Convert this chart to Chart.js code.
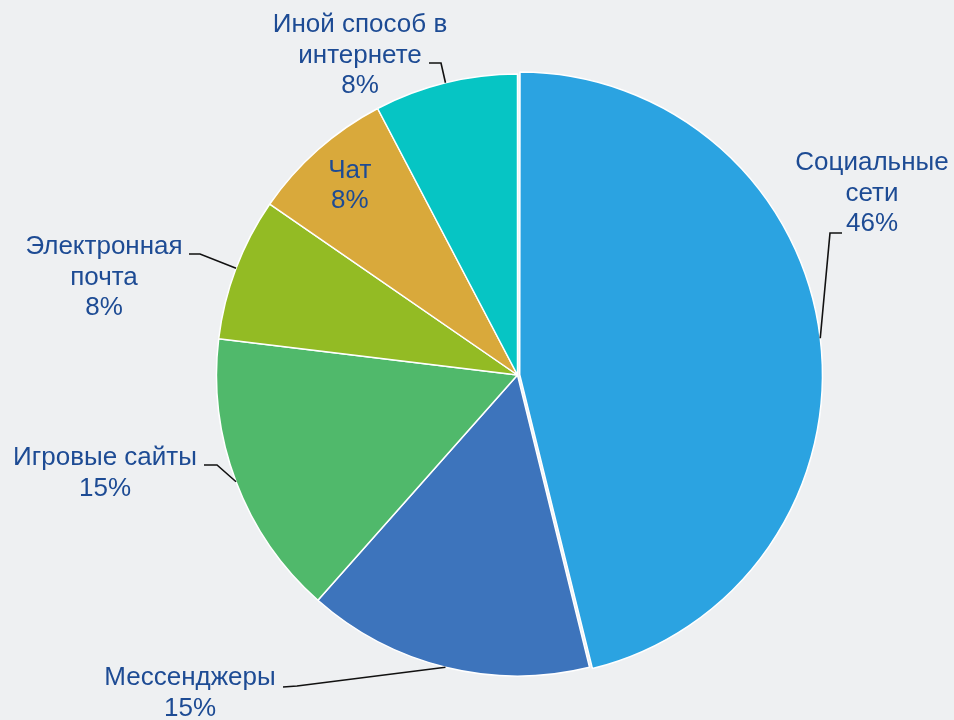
<!DOCTYPE html>
<html lang="ru">
<head>
<meta charset="UTF-8">
<title>Способы общения в интернете</title>
<script src="https://cdn.jsdelivr.net/npm/chart.js"></script>
<style>
  html, body { margin:0; padding:0; background:#eef0f2; }
  #wrap { width:954px; height:720px; position:relative; }
</style>
</head>
<body>
<div id="wrap"><canvas id="pie"></canvas></div>
<script>
// данные
const categories = [['Социальные', 'сети'], ['Мессенджеры'], ['Игровые сайты'], ['Электронная', 'почта'], ['Чат'], ['Иной способ в', 'интернете']];
const shares = [46.2, 15.4, 15.4, 7.7, 7.7, 7.7];
const colors = ['#2ba3e1', '#3d74bc', '#50b96b', '#93bb24', '#d9a93b', '#06c5c4'];

// где стоят подписи (только раскладка)
const labelLayout = [
  { x: 872, y: 163, end: [842, 233], elbow: [830, 233] },
  { x: 190, y: 678, end: [283, 687], elbow: [297, 686] },
  { x: 105, y: 458, end: [204, 465], elbow: [217, 465] },
  { x: 104, y: 247, end: [189, 254], elbow: [200, 254] },
  { inside: 0.84 },
  { x: 360, y: 25, end: [429, 63], elbow: [441, 63] }
];
const lineGap = 30.5;

// такой же сдвиг, как делает ArcElement.draw в Chart.js v4
function arcShift(p, offset) {
  const circ = p.endAngle - p.startAngle;
  const fix = 1 - Math.sin(Math.min(Math.PI, circ || 0));
  return (offset / 4) * (1 + fix);
}

const labelPlugin = {
  id: 'pieLabels',
  afterDatasetsDraw(chart) {
    const ctx = chart.ctx;
    const meta = chart.getDatasetMeta(0);
    ctx.save();
    ctx.font = '26px "Liberation Sans", Arial, sans-serif';
    ctx.fillStyle = '#1d4b94';
    ctx.textAlign = 'center';
    ctx.textBaseline = 'middle';
    meta.data.forEach((arc, i) => {
      const p = arc.getProps(['x', 'y', 'startAngle', 'endAngle', 'outerRadius'], true);
      const mid = (p.startAngle + p.endAngle) / 2;
      const sh = arcShift(p, arc.options.offset || 0);
      const cx = p.x + Math.cos(mid) * sh;
      const cy = p.y + Math.sin(mid) * sh;
      const lines = categories[i].concat([Math.round(shares[i]) + '%']);
      const lay = labelLayout[i];
      let tx, ty;
      if (lay.inside) {
        const r = p.outerRadius * lay.inside;
        tx = cx + Math.cos(mid) * r;
        ty = cy + Math.sin(mid) * r - lineGap * (lines.length - 1) / 2;
      } else {
        tx = lay.x; ty = lay.y;
        const ax = cx + Math.cos(mid) * p.outerRadius;
        const ay = cy + Math.sin(mid) * p.outerRadius;
        ctx.beginPath();
        ctx.strokeStyle = '#111';
        ctx.lineWidth = 1.6;
        ctx.moveTo(ax, ay);
        ctx.lineTo(lay.elbow[0], lay.elbow[1]);
        ctx.lineTo(lay.end[0], lay.end[1]);
        ctx.stroke();
      }
      lines.forEach((t, k) => ctx.fillText(t, tx, ty + k * lineGap));
    });
    ctx.restore();
  }
};

new Chart(document.getElementById('pie'), {
  type: 'pie',
  data: {
    labels: categories.map(c => c.join(' ')),
    datasets: [{
      data: shares,
      backgroundColor: colors,
      borderColor: '#ffffff',
      borderWidth: 1.5,
      offset: [9, 0, 0, 0, 0, 0]
    }]
  },
  options: {
    responsive: true,
    maintainAspectRatio: false,
    animation: false,
    radius: 301,
    layout: { padding: { left: 199, right: 118, top: 60, bottom: 30 } },
    plugins: { legend: { display: false }, tooltip: { enabled: false } }
  },
  plugins: [labelPlugin]
});
</script>
</body>
</html>
